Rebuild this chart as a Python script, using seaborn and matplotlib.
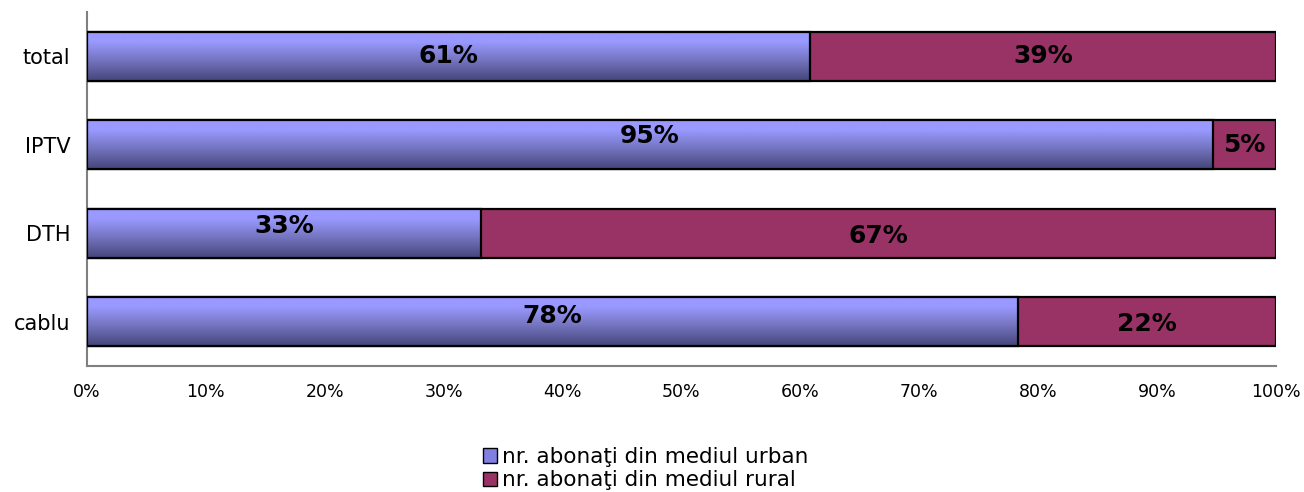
import numpy as np
import pandas as pd
import matplotlib
matplotlib.use("Agg")
import matplotlib.pyplot as plt
import seaborn as sns
from matplotlib.patches import Patch
from matplotlib.colors import LinearSegmentedColormap

# data (share of subscribers, %)
categories = ["total", "IPTV", "DTH", "cablu"]
urban = [60.8, 94.7, 33.1, 78.3]
rural = [39.2, 5.3, 66.9, 21.7]
urban_labels = ["61%", "95%", "33%", "78%"]
rural_labels = ["39%", "5%", "67%", "22%"]
series_names = ["nr. abonaţi din mediul urban", "nr. abonaţi din mediul rural"]

URBAN_TOP = "#9999ff"
URBAN_BOTTOM = "#45457a"
RURAL = "#993366"

sns.set_style("white")
plt.rcParams["font.family"] = ["DejaVu Sans"]
plt.rcParams["text.color"] = "black"
plt.rcParams["xtick.color"] = "#808080"
plt.rcParams["ytick.color"] = "#808080"
plt.rcParams["xtick.labelcolor"] = "black"
plt.rcParams["ytick.labelcolor"] = "black"

df = pd.DataFrame({"cat": categories, "urban": urban, "rural": rural})
df["full"] = df["urban"] + df["rural"]

fig = plt.figure(figsize=(13.04, 4.92), dpi=100)
ax = fig.add_axes([0.0667, 0.2561, 0.9118, 0.7195])

# rural drawn as the full bar, urban laid over it from 0
sns.barplot(data=df, x="full", y="cat", orient="h", color=RURAL, saturation=1,
            width=0.55, edgecolor="black", linewidth=1.6, ax=ax)
n_rural = len(ax.patches)
sns.barplot(data=df, x="urban", y="cat", orient="h", color=URBAN_TOP, saturation=1,
            width=0.55, edgecolor="black", linewidth=1.6, ax=ax)

# vertical gradient fill on the urban bars
cmap = LinearSegmentedColormap.from_list(
    "urb", [(0, URBAN_TOP), (0.2, URBAN_TOP), (0.55, "#7777c4"), (1, URBAN_BOTTOM)])
grad = np.linspace(0, 1, 256).reshape(-1, 1)
for p in ax.patches[n_rural:]:
    x0, y0 = p.get_x(), p.get_y()
    w, h = p.get_width(), p.get_height()
    im = ax.imshow(grad, cmap=cmap, aspect="auto", origin="upper",
                   extent=(x0, x0 + w, y0 + h, y0), zorder=2.5, interpolation="bilinear")
    im.set_clip_path(p)
    p.set_facecolor("none")
    p.set_zorder(3)
ax.set_xlim(0, 100)
ax.set_ylim(3.5, -0.5)

# value labels
urban_dy = [0, -0.1, -0.085, -0.06]
rural_dy = [0, 0, 0.03, 0.03]
for i in range(len(categories)):
    ax.text(urban[i] / 2, i + urban_dy[i], urban_labels[i], ha="center", va="center",
            fontsize=18, fontweight="bold", zorder=5)
    ax.text(urban[i] + rural[i] / 2, i + rural_dy[i], rural_labels[i], ha="center",
            va="center", fontsize=18, fontweight="bold", zorder=5)

ax.set_xticks(np.arange(0, 101, 10))
ax.set_xticklabels([f"{v}%" for v in range(0, 101, 10)], fontsize=12.5)
ax.set_yticks(range(len(categories)))
ax.set_yticklabels(categories, fontsize=15)
ax.set_yticks(np.arange(-0.5, 4, 1), minor=True)
ax.tick_params(axis="y", which="major", length=0, pad=12)
ax.tick_params(axis="y", which="minor", length=6, direction="out")
ax.tick_params(axis="x", length=6, direction="out", pad=6)
ax.set_xlabel("")
ax.set_ylabel("")

for s in ["top", "right"]:
    ax.spines[s].set_visible(False)
for s in ["left", "bottom"]:
    ax.spines[s].set_color("#808080")
    ax.spines[s].set_linewidth(1.5)

handles = [Patch(facecolor="#8080e0", edgecolor="black", label=series_names[0]),
           Patch(facecolor=RURAL, edgecolor="black", label=series_names[1])]
fig.legend(handles=handles, loc="upper center", bbox_to_anchor=(0.495, 0.113), ncol=1,
           frameon=False, fontsize=15.5, handlelength=0.65, handleheight=0.65,
           handletextpad=0.25, labelspacing=0.15, borderpad=0)

fig.savefig("out.png", dpi=100)
